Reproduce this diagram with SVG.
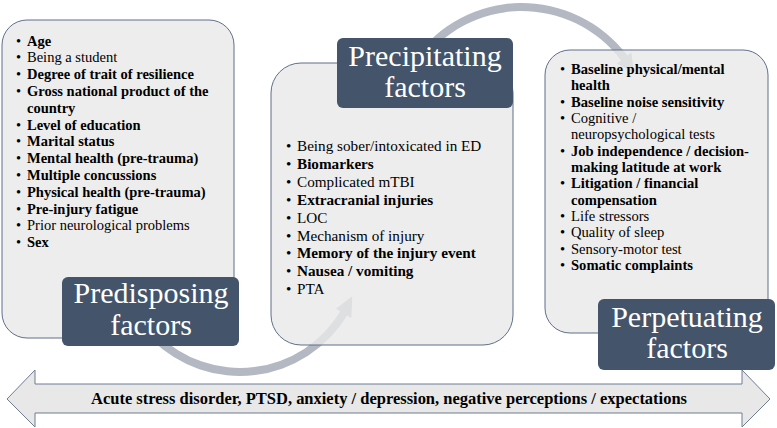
<svg xmlns="http://www.w3.org/2000/svg" width="777" height="428" viewBox="0 0 777 428" font-family="Liberation Serif, Times New Roman, serif">
<style>
.box{fill:#e8e8e8;fill-opacity:0.8;stroke:#5f6f8c;stroke-width:1}
.lab{fill:#44546a}
.arc{fill:#b3b8c2}
.lt{font-size:30px;fill:#ffffff;text-anchor:middle}
.t{font-size:14.5px;fill:#000}
.m{font-size:15.2px}
.r{font-size:14.6px}
.b{font-weight:bold}
</style>
<g id="connectors">
<path class="arc" d="M151.6,339.4 A125,125 0 0 0 347.1,315.4 L351.4,318 L352.2,296.3 L336,308.7 L340.3,311.3 A117,117 0 0 1 157.3,333.7 Z"/>
<path class="arc" d="M413.9,59.3 A132,132 0 0 1 627.4,55.6 L631.4,52.6 L633.9,72.9 L617,63.4 L621,60.4 A124,124 0 0 0 420.4,63.9 Z"/>
</g>
<g id="predisposing">
<rect class="box" x="2" y="20" width="232" height="318" rx="25"/>
<g class="t" font-family="Liberation Serif">
<text x="16" y="45.5">•</text><text x="27" y="45.5" class="b">Age</text>
<text x="16" y="62.3">•</text><text x="27" y="62.3">Being a student</text>
<text x="16" y="79.1">•</text><text x="27" y="79.1" class="b">Degree of trait of resilience</text>
<text x="16" y="95.9">•</text><text x="27" y="95.9" class="b">Gross national product of the</text>
<text x="27" y="112.7" class="b">country</text>
<text x="16" y="129.5">•</text><text x="27" y="129.5" class="b">Level of education</text>
<text x="16" y="146.3">•</text><text x="27" y="146.3" class="b">Marital status</text>
<text x="16" y="163.1">•</text><text x="27" y="163.1" class="b">Mental health (pre-trauma)</text>
<text x="16" y="179.9">•</text><text x="27" y="179.9" class="b">Multiple concussions</text>
<text x="16" y="196.7">•</text><text x="27" y="196.7" class="b">Physical health (pre-trauma)</text>
<text x="16" y="213.5">•</text><text x="27" y="213.5" class="b">Pre-injury fatigue</text>
<text x="16" y="230.3">•</text><text x="27" y="230.3">Prior neurological problems</text>
<text x="16" y="247.1">•</text><text x="27" y="247.1" class="b">Sex</text>
</g>
<rect class="lab" x="62" y="277" width="177" height="69" rx="6"/>
<text class="lt" x="151" y="303" font-family="Liberation Serif">Predisposing</text>
<text class="lt" x="151" y="335" font-family="Liberation Serif">factors</text>
</g>
<g id="precipitating">
<rect class="box" x="271" y="63" width="242" height="282" rx="30"/>
<g class="t m" font-family="Liberation Serif">
<text x="286" y="151">•</text><text x="297" y="151">Being sober/intoxicated in ED</text>
<text x="286" y="168.9">•</text><text x="297" y="168.9" class="b">Biomarkers</text>
<text x="286" y="186.8">•</text><text x="297" y="186.8">Complicated mTBI</text>
<text x="286" y="204.7">•</text><text x="297" y="204.7" class="b">Extracranial injuries</text>
<text x="286" y="222.6">•</text><text x="297" y="222.6">LOC</text>
<text x="286" y="240.5">•</text><text x="297" y="240.5">Mechanism of injury</text>
<text x="286" y="258.4">•</text><text x="297" y="258.4" class="b">Memory of the injury event</text>
<text x="286" y="276.3">•</text><text x="297" y="276.3" class="b">Nausea / vomiting</text>
<text x="286" y="294.2">•</text><text x="297" y="294.2">PTA</text>
</g>
<rect class="lab" x="337" y="38" width="176" height="70" rx="6"/>
<text class="lt" x="425" y="66" font-family="Liberation Serif">Precipitating</text>
<text class="lt" x="425" y="97" font-family="Liberation Serif">factors</text>
</g>
<g id="perpetuating">
<rect class="box" x="545" y="50" width="223" height="283" rx="25"/>
<g class="t r" font-family="Liberation Serif">
<text x="560" y="74">•</text><text x="571" y="74" class="b">Baseline physical/mental</text>
<text x="571" y="90.3" class="b">health</text>
<text x="560" y="106.7">•</text><text x="571" y="106.7" class="b">Baseline noise sensitivity</text>
<text x="560" y="123">•</text><text x="571" y="123">Cognitive /</text>
<text x="571" y="139.3">neuropsychological tests</text>
<text x="560" y="155.7">•</text><text x="571" y="155.7" class="b">Job independence / decision-</text>
<text x="571" y="172" class="b">making latitude at work</text>
<text x="560" y="188.3">•</text><text x="571" y="188.3" class="b">Litigation / financial</text>
<text x="571" y="204.7" class="b">compensation</text>
<text x="560" y="221">•</text><text x="571" y="221">Life stressors</text>
<text x="560" y="237.3">•</text><text x="571" y="237.3">Quality of sleep</text>
<text x="560" y="253.7">•</text><text x="571" y="253.7">Sensory-motor test</text>
<text x="560" y="270">•</text><text x="571" y="270" class="b">Somatic complaints</text>
</g>
<rect class="lab" x="598" y="299" width="177" height="71" rx="6"/>
<text class="lt" x="687" y="327" font-family="Liberation Serif">Perpetuating</text>
<text class="lt" x="687" y="358" font-family="Liberation Serif">factors</text>
</g>
<g id="bottom-arrow">
<polygon points="7,399 35,370 35,384 742,384 742,370 770,399 742,427 742,413 35,413 35,427" fill="#e8e8e8" stroke="#6f7c95" stroke-width="1"/>
<text x="389" y="404" text-anchor="middle" textLength="596" lengthAdjust="spacingAndGlyphs" font-family="Liberation Serif" font-size="16" font-weight="bold" fill="#000">Acute stress disorder, PTSD, anxiety / depression, negative perceptions / expectations</text>
</g>
</svg>
